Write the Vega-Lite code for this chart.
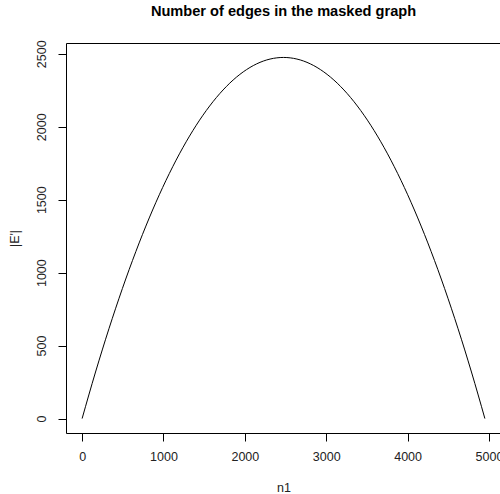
{
  "$schema": "https://vega.github.io/schema/vega-lite/v6.json",
  "width": 435,
  "height": 390,
  "autosize": {"type": "none"},
  "padding": {"left": 66, "top": 43, "right": 0, "bottom": 61},
  "background": "white",
  "title": {"text": "Number of edges in the masked graph", "font": "Liberation Sans", "fontSize": 14.6, "fontWeight": "bold", "color": "black", "anchor": "middle", "offset": 21},
  "config": {
    "view": {"stroke": "black", "strokeWidth": 1},
    "axis": {"domain": false, "grid": false, "tickColor": "black", "tickSize": 8, "labelFont": "Liberation Sans", "labelFontSize": 12.5, "labelColor": "#222", "titleFont": "Liberation Sans", "titleFontSize": 12.5, "titleFontWeight": "normal", "titleColor": "#222"}
  },
  "data": {"values": [
    {"n1": 0, "E": 0}, {"n1": 165, "E": 319}, {"n1": 330, "E": 616}, {"n1": 495, "E": 891},
    {"n1": 660, "E": 1144}, {"n1": 825, "E": 1375}, {"n1": 990, "E": 1584}, {"n1": 1155, "E": 1771},
    {"n1": 1320, "E": 1936}, {"n1": 1485, "E": 2079}, {"n1": 1650, "E": 2200}, {"n1": 1815, "E": 2299},
    {"n1": 1980, "E": 2376}, {"n1": 2145, "E": 2431}, {"n1": 2310, "E": 2464}, {"n1": 2475, "E": 2475},
    {"n1": 2640, "E": 2464}, {"n1": 2805, "E": 2431}, {"n1": 2970, "E": 2376}, {"n1": 3135, "E": 2299},
    {"n1": 3300, "E": 2200}, {"n1": 3465, "E": 2079}, {"n1": 3630, "E": 1936}, {"n1": 3795, "E": 1771},
    {"n1": 3960, "E": 1584}, {"n1": 4125, "E": 1375}, {"n1": 4290, "E": 1144}, {"n1": 4455, "E": 891},
    {"n1": 4620, "E": 616}, {"n1": 4785, "E": 319}, {"n1": 4950, "E": 0}
  ]},
  "mark": {"type": "line", "color": "black", "strokeWidth": 1, "interpolate": "monotone", "clip": true},
  "encoding": {
    "x": {"field": "n1", "type": "quantitative", "scale": {"domain": [-198, 5148], "nice": false, "zero": false},
      "axis": {"values": [0, 1000, 2000, 3000, 4000, 5000], "format": "d", "title": "n1", "labelPadding": 9, "titlePadding": 19}},
    "y": {"field": "E", "type": "quantitative", "scale": {"domain": [-99, 2574], "nice": false, "zero": false},
      "axis": {"values": [0, 500, 1000, 1500, 2000, 2500], "format": "d", "title": "|E'|", "labelAngle": -90, "labelAlign": "center", "labelBaseline": "bottom", "labelPadding": 10, "titlePadding": 14}}
  }
}
